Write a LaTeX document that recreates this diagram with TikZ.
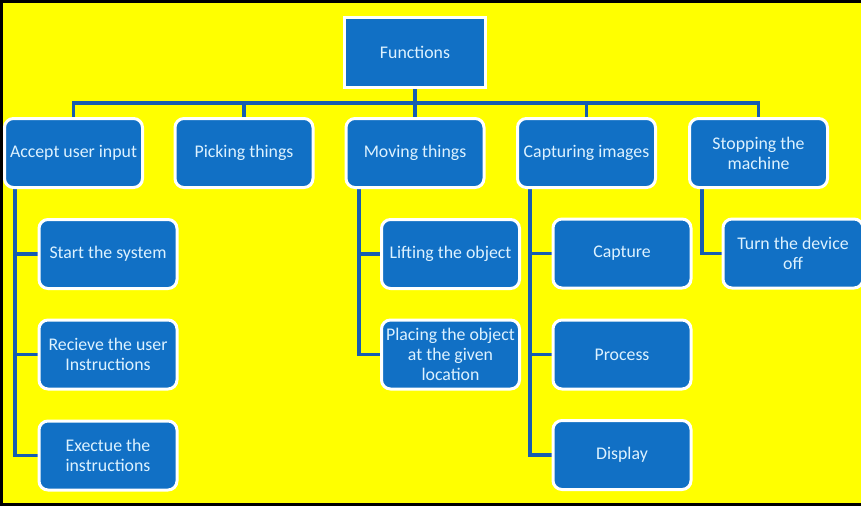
\documentclass[tikz,border=0pt]{standalone}
\usepackage{fontspec}
\setmainfont{Carlito}
\usetikzlibrary{backgrounds}
\definecolor{bg}{HTML}{FFFF00}
\definecolor{boxfill}{HTML}{1170C5}
\definecolor{linecol}{HTML}{175DB0}
\definecolor{txt}{HTML}{DDF2FF}
\tikzset{
  box/.style={draw=white, line width=3pt, fill=boxfill, rounded corners=9pt,
    minimum width=138pt, minimum height=69pt, inner sep=0pt,
    text=txt, align=center, font=\fontsize{17.8}{20}\selectfont},
  topbox/.style={box, rounded corners=0pt, minimum width=141pt, minimum height=70pt},
  conn/.style={draw=linecol, line width=3.6pt},
}
\begin{document}
\begin{tikzpicture}[x=1pt,y=-1pt]
\useasboundingbox (0,0) rectangle (861,506);

\node[topbox] (F) at (415,52.5) {Functions};

\node[box] (A) at (73.5,153) {Accept user input};
\node[box] (P) at (244,153) {Picking things};
\node[box] (M) at (415,153) {Moving things};
\node[box] (C) at (586.5,153) {Capturing images};
\node[box] (S) at (758.5,153) {Stopping the\\machine};

\node[box] (A1) at (108,254) {Start the system};
\node[box] (A2) at (108,354.5) {Recieve the user\\Instructions};
\node[box] (A3) at (108,455.5) {Exectue the\\instructions};

\node[box] (M1) at (450.5,254) {Lifting the object};
\node[box] (M2) at (450.5,354.5) {Placing the object\\at the given\\location};

\node[box] (C1) at (622,253.5) {Capture};
\node[box] (C2) at (622,354.5) {Process};
\node[box] (C3) at (622,455) {Display};

\node[box, minimum width=140pt] (S1) at (793,253.5) {Turn the device\\off};

\coordinate (bus) at (0,103);
\coordinate (tA) at (15,189);
\coordinate (tM) at (359,189);
\coordinate (tC) at (530,189);
\coordinate (tS) at (702,189);

\begin{scope}[on background layer]
\fill[bg] (0,0) rectangle (861,506);
\draw[black, line width=3pt] (861,1.5) -- (1.5,1.5) -- (1.5,504.5) -- (861,504.5);

\draw[conn] (F.south) -- (F.south |- bus);
\draw[conn] (A.north) -- (A.north |- bus) -- (S.north |- bus) -- (S.north);
\draw[conn] (P.north) -- (P.north |- bus);
\draw[conn] (M.north) -- (M.north |- bus);
\draw[conn] (C.north) -- (C.north |- bus);

\draw[conn] (tA) |- (A1.west);
\draw[conn] (tA) |- (A2.west);
\draw[conn] (tA) |- (A3.west);
\draw[conn] (tM) |- (M1.west);
\draw[conn] (tM) |- (M2.west);
\draw[conn] (tC) |- (C1.west);
\draw[conn] (tC) |- (C2.west);
\draw[conn] (tC) |- (C3.west);
\draw[conn] (tS) |- (S1.west);
\end{scope}
\end{tikzpicture}
\end{document}
